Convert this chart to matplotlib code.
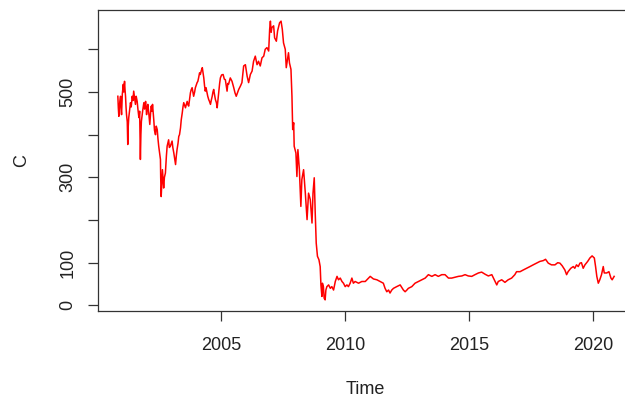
import numpy as np
import matplotlib
matplotlib.use('Agg')
import matplotlib.pyplot as plt

## Data (decimal year, closing price)
years_a = [2000.82, 2000.84, 2000.86, 2000.90, 2000.93, 2000.95, 2000.97, 2001.00, 2001.04, 2001.06,
           2001.09, 2001.11, 2001.13, 2001.15, 2001.17, 2001.20, 2001.22, 2001.24, 2001.26, 2001.30,
           2001.33, 2001.36, 2001.40, 2001.43, 2001.46, 2001.50, 2001.53, 2001.56, 2001.60, 2001.63,
           2001.67, 2001.70, 2001.73, 2001.75, 2001.77, 2001.82, 2001.87, 2001.90, 2001.94, 2001.96,
           2001.98, 2002.00, 2002.03, 2002.07, 2002.11, 2002.14, 2002.17, 2002.20, 2002.22, 2002.25,
           2002.27, 2002.30, 2002.34, 2002.37, 2002.41, 2002.44, 2002.47, 2002.50, 2002.54, 2002.55,
           2002.57, 2002.60, 2002.62, 2002.65, 2002.67, 2002.70, 2002.74, 2002.78, 2002.81, 2002.84,
           2002.87, 2002.90, 2002.94, 2002.98, 2003.01, 2003.04, 2003.08, 2003.11, 2003.15, 2003.18,
           2003.21, 2003.25, 2003.28, 2003.31, 2003.35, 2003.38, 2003.42, 2003.45, 2003.48, 2003.52,
           2003.55, 2003.58, 2003.62, 2003.65, 2003.68, 2003.72, 2003.75, 2003.78, 2003.82, 2003.85,
           2003.88, 2003.92, 2003.95, 2003.98, 2004.02, 2004.05, 2004.08, 2004.12, 2004.15, 2004.19,
           2004.23, 2004.26, 2004.29, 2004.32, 2004.35, 2004.38, 2004.42, 2004.45, 2004.49, 2004.52,
           2004.56, 2004.59, 2004.63, 2004.66, 2004.69, 2004.72, 2004.76, 2004.80, 2004.83, 2004.86,
           2004.89, 2004.93, 2004.96, 2005.01, 2005.07, 2005.12, 2005.16]
price_a = [490, 462, 443, 478, 490, 460, 447, 495, 518, 500,
           525, 505, 490, 465, 447, 430, 377, 420, 440, 460,
           475, 465, 490, 480, 502, 485, 471, 490, 478, 460,
           440, 455, 342, 400, 431, 455, 475, 460, 478, 465,
           447, 460, 471, 450, 424, 450, 467, 455, 471, 450,
           435, 410, 400, 420, 412, 390, 373, 360, 342, 300,
           255, 290, 318, 290, 275, 300, 310, 350, 373, 380,
           388, 370, 373, 380, 385, 370, 357, 345, 330, 350,
           365, 380, 396, 400, 416, 435, 451, 465, 475, 468,
           463, 470, 478, 470, 467, 485, 498, 505, 510, 500,
           490, 500, 510, 515, 522, 525, 533, 545, 541, 550,
           557, 545, 533, 515, 502, 510, 498, 490, 482, 478,
           471, 480, 490, 500, 506, 495, 482, 475, 463, 480,
           498, 520, 533, 540, 541, 530, 529]

years_b = [2005.23, 2005.26, 2005.29, 2005.36, 2005.43, 2005.50, 2005.55, 2005.60, 2005.70, 2005.77,
           2005.83, 2005.90, 2005.97, 2006.04, 2006.10, 2006.17, 2006.24, 2006.30, 2006.37, 2006.44,
           2006.50, 2006.57, 2006.64, 2006.71, 2006.77, 2006.84, 2006.91, 2006.95, 2006.98, 2007.01,
           2007.04, 2007.11, 2007.15, 2007.22, 2007.27, 2007.35, 2007.41, 2007.46, 2007.51, 2007.58,
           2007.62, 2007.67, 2007.71, 2007.75, 2007.81, 2007.85, 2007.88, 2007.92, 2007.94, 2008.01,
           2008.05, 2008.09, 2008.15, 2008.21, 2008.25, 2008.32, 2008.39, 2008.46, 2008.52, 2008.59,
           2008.66, 2008.70, 2008.75, 2008.79, 2008.83, 2008.88, 2008.94, 2008.99, 2009.02, 2009.06,
           2009.08, 2009.12, 2009.15, 2009.19, 2009.22, 2009.26]
price_b = [502, 520, 518, 533, 525, 510, 498, 490, 506, 514,
           522, 561, 564, 537, 522, 541, 549, 572, 584, 564,
           572, 561, 580, 584, 600, 604, 596, 647, 666, 640,
           651, 655, 627, 619, 643, 662, 666, 647, 615, 600,
           557, 576, 592, 568, 553, 490, 412, 428, 373, 357,
           302, 365, 318, 232, 295, 318, 263, 201, 263, 248,
           193, 263, 299, 216, 146, 115, 107, 91, 48, 21,
           52, 44, 17, 13, 36, 44]

years_c = [2009.33, 2009.40, 2009.46, 2009.53, 2009.60, 2009.67, 2009.73, 2009.80, 2009.87, 2009.93,
           2010.00, 2010.07, 2010.13, 2010.20, 2010.27, 2010.33, 2010.40, 2010.54, 2010.67, 2010.81,
           2010.94, 2011.01, 2011.14, 2011.28, 2011.41, 2011.54, 2011.61, 2011.68, 2011.75, 2011.81,
           2011.88, 2011.95, 2012.08, 2012.22, 2012.35, 2012.42, 2012.49, 2012.55, 2012.69, 2012.82,
           2012.96, 2013.09, 2013.23, 2013.36, 2013.50, 2013.63, 2013.76, 2013.90, 2014.03, 2014.17,
           2014.30, 2014.44, 2014.57, 2014.71, 2014.84, 2014.97]
price_c = [48, 40, 44, 36, 56, 68, 60, 64, 56, 52,
           44, 48, 44, 52, 64, 52, 56, 52, 56, 56,
           64, 68, 62, 60, 56, 52, 40, 32, 36, 29,
           36, 40, 44, 48, 36, 32, 36, 40, 44, 52,
           56, 60, 64, 72, 68, 72, 68, 72, 72, 64,
           64, 66, 68, 69, 72, 69]

years_d = [2015.11, 2015.24, 2015.38, 2015.51, 2015.65, 2015.78, 2015.92, 2016.02, 2016.12, 2016.18,
           2016.32, 2016.45, 2016.58, 2016.72, 2016.85, 2016.92, 2017.06, 2017.19, 2017.33, 2017.46,
           2017.59, 2017.73, 2017.86, 2018.00, 2018.09, 2018.20, 2018.33, 2018.47, 2018.58, 2018.67,
           2018.76, 2018.87, 2018.94, 2019.00, 2019.11, 2019.21, 2019.27, 2019.34, 2019.41, 2019.48,
           2019.54, 2019.61, 2019.68, 2019.79, 2019.88, 2019.97, 2020.06, 2020.11, 2020.16, 2020.22,
           2020.28, 2020.35, 2020.42, 2020.46, 2020.56, 2020.65, 2020.73, 2020.78, 2020.86]
price_d = [68, 72, 76, 78, 73, 69, 72, 60, 48, 56,
           60, 54, 60, 64, 72, 79, 79, 83, 87, 91,
           95, 99, 103, 105, 108, 99, 95, 95, 100, 99,
           93, 83, 72, 79, 87, 91, 87, 95, 91, 99,
           100, 87, 95, 103, 111, 116, 111, 91, 68, 52,
           60, 72, 91, 76, 76, 79, 64, 60, 68]

years = np.array(years_a + years_b + years_c + years_d)
price = np.array(price_a + price_b + price_c + price_d)

x_ticks = [2005, 2010, 2015, 2020]
y_ticks = [0, 100, 200, 300, 400, 500, 600]
y_labels = ['0', '100', '', '300', '', '500', '']

plt.rcParams['font.family'] = ['Liberation Sans', 'DejaVu Sans']

fig = plt.figure(figsize=(6.25, 4), dpi=100)
# R style plot area, right edge runs past the picture
ax = fig.add_axes([98/625, 89/400, 536/625, 301/400])
ax.plot(years, price, color='red', lw=1.1)

# R pads the range by 4% on each side
span = years.max() - years.min()
ax.set_xlim(years.min() - 0.04*span, years.max() + 0.04*span)
pspan = price.max() - price.min()
ax.set_ylim(price.min() - 0.04*pspan, price.max() + 0.04*pspan)

ax.set_xticks(x_ticks)
ax.set_yticks(y_ticks)
ax.set_yticklabels(y_labels, rotation=90, va='center')
ax.tick_params(axis='both', direction='out', length=7.5, width=0.9, colors='#333333',
               labelsize=13, labelcolor='#222222')
ax.tick_params(axis='x', pad=11)
ax.tick_params(axis='y', pad=8)
for s in ax.spines.values():
    s.set_color('#333333')
    s.set_linewidth(0.9)

fig.text(365/625, 1 - 390/400, 'Time', ha='center', va='center', fontsize=13, color='#222222')
fig.text(21.5/625, 1 - 161/400, 'C', ha='center', va='center', fontsize=13, color='#222222', rotation=90)

fig.savefig('out.png', dpi=100)
